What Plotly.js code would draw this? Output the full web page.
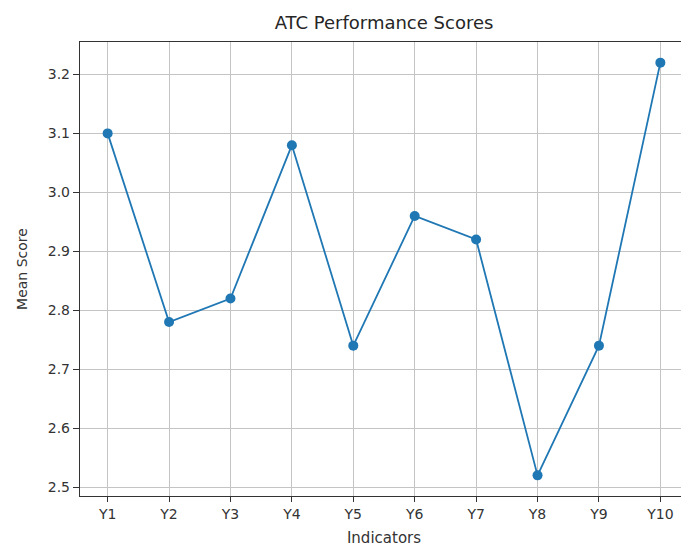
<!DOCTYPE html>
<html>
<head>
<meta charset="utf-8">
<script src="https://cdn.plot.ly/plotly-3.0.1.min.js"></script>
<style>
html, body { margin: 0; padding: 0; overflow: hidden; background: #fff; }
#chart { width: 700px; height: 547px; }
</style>
</head>
<body>
<div id="chart"></div>
<script>
const categories = ["Y1", "Y2", "Y3", "Y4", "Y5", "Y6", "Y7", "Y8", "Y9", "Y10"];
const meanScores = [3.10, 2.78, 2.82, 3.08, 2.74, 2.96, 2.92, 2.52, 2.74, 3.22];
const yTickValues = [2.5, 2.6, 2.7, 2.8, 2.9, 3.0, 3.1, 3.2];
const yTickLabels = ["2.5", "2.6", "2.7", "2.8", "2.9", "3.0", "3.1", "3.2"];

const xIdx = categories.map((_, i) => i);

const trace = {
  x: xIdx,
  y: meanScores,
  type: "scatter",
  mode: "lines+markers",
  line: { color: "#1f77b4", width: 1.8 },
  marker: { color: "#1f77b4", size: 10 },
  hoverinfo: "skip"
};

const fontFamily = "DejaVu Sans, sans-serif";

const layout = {
  width: 700,
  height: 547,
  margin: { l: 80, r: 12, t: 42, b: 51, pad: 0 },
  paper_bgcolor: "#ffffff",
  plot_bgcolor: "#ffffff",
  showlegend: false,
  font: { family: fontFamily, color: "#262626", size: 15 },
  title: {
    text: "ATC Performance Scores",
    font: { family: fontFamily, size: 18, color: "#262626" },
    x: 0.5, xref: "paper", xanchor: "center",
    y: 1 - 23 / 547, yref: "container", yanchor: "middle"
  },
  xaxis: {
    range: [-0.45, 9.45],
    tickmode: "array",
    tickvals: xIdx,
    ticktext: categories,
    ticks: "outside",
    ticklen: 5,
    tickwidth: 1,
    tickcolor: "#333",
    showline: true,
    linecolor: "#333",
    linewidth: 1.2,
    mirror: true,
    showgrid: true,
    gridcolor: "#c4c4c4",
    gridwidth: 1,
    zeroline: false,
    tickfont: { family: fontFamily, size: 14, color: "#333" },
    title: { text: "Indicators", font: { family: fontFamily, size: 15, color: "#333" }, standoff: 11 }
  },
  yaxis: {
    range: [2.485, 3.255],
    tickmode: "array",
    tickvals: yTickValues,
    ticktext: yTickLabels,
    ticks: "outside",
    ticklen: 6,
    tickwidth: 1,
    tickcolor: "#333",
    showline: true,
    linecolor: "#333",
    linewidth: 1.2,
    mirror: true,
    showgrid: true,
    gridcolor: "#c4c4c4",
    gridwidth: 1,
    zeroline: false,
    tickfont: { family: fontFamily, size: 14, color: "#333" },
    title: { text: "Mean Score", font: { family: fontFamily, size: 14, color: "#333" }, standoff: 16 }
  }
};

Plotly.newPlot("chart", [trace], layout, { staticPlot: true, displayModeBar: false });
</script>
</body>
</html>
